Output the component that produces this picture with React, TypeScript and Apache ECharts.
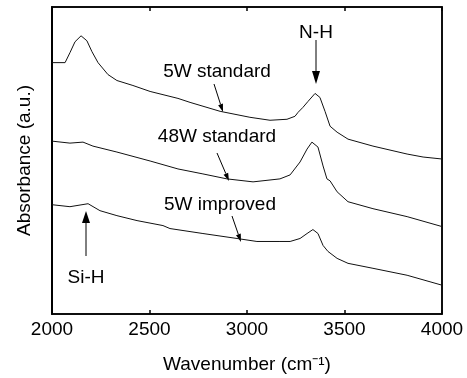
import React, { useEffect, useRef } from "react";
import * as echarts from "echarts";

// Wavenumber (cm-1) and absorbance (a.u., offset for stacking)
const wn5WStd = [2000, 2067, 2092, 2118, 2149, 2179, 2205, 2236, 2287, 2333, 2415, 2503, 2646, 2708, 2862, 3015, 3118, 3205, 3246, 3262, 3287, 3313, 3349, 3374, 3400, 3426, 3462, 3518, 3646, 3821, 3903, 4000];
const ab5WStd = [253, 253, 263, 274, 280, 275, 264, 253, 241, 235, 230, 224, 217, 213, 204, 198, 195, 196, 199, 203, 208, 214, 222, 218, 204, 189, 183, 176, 169, 161, 158, 156];

const wn48WStd = [2000, 2092, 2159, 2210, 2333, 2503, 2646, 2774, 2897, 3031, 3169, 3221, 3272, 3308, 3333, 3364, 3390, 3410, 3426, 3462, 3518, 3646, 3821, 4000];
const ab48WStd = [174, 172, 173, 169, 163, 154, 146, 141, 136, 133, 136, 140, 153, 166, 173, 168, 149, 136, 134, 123, 113, 106, 98, 88];

const wn5WImp = [2000, 2092, 2185, 2246, 2333, 2436, 2569, 2605, 2774, 2949, 3051, 3169, 3221, 3272, 3308, 3338, 3364, 3390, 3415, 3462, 3518, 3646, 3821, 4000];
const ab5WImp = [110, 108, 111, 104, 99, 94, 89, 86, 81, 76, 73, 73, 73, 76, 81, 85, 81, 69, 63, 56, 51, 46, 39, 29];

const xTicks = [2000, 2500, 3000, 3500, 4000];
const yRange = [0, 309];
const seriesNames = ["5W standard", "48W standard", "5W improved"];

const FONT = "'Liberation Sans', Arial, sans-serif";

function arrow(x1: number, y1: number, x2: number, y2: number, hl: number, hw: number) {
  const dx = x2 - x1;
  const dy = y2 - y1;
  const len = Math.sqrt(dx * dx + dy * dy);
  const ux = dx / len;
  const uy = dy / len;
  const bx = x2 - ux * hl;
  const by = y2 - uy * hl;
  const px = -uy * (hw / 2);
  const py = ux * (hw / 2);
  return [
    {
      type: "line",
      shape: { x1, y1, x2: bx, y2: by },
      style: { stroke: "#000", lineWidth: 1 },
    },
    {
      type: "polygon",
      shape: { points: [[x2, y2], [bx + px, by + py], [bx - px, by - py]] },
      style: { fill: "#000" },
    },
  ];
}

function label(text: string, x: number, y: number) {
  return {
    type: "text",
    x,
    y,
    style: {
      text,
      fill: "#000",
      font: `19px ${FONT}`,
      align: "center",
      verticalAlign: "middle",
    },
  };
}

export default function App() {
  const ref = useRef<HTMLDivElement>(null);
  useEffect(() => {
    if (!ref.current) return;
    const chart = echarts.init(ref.current, null, { renderer: "svg" });
    const mk = (w: number[], a: number[]) => w.map((v, i) => [v, a[i]]);
    chart.setOption({
      animation: false,
      grid: { left: 52, right: 25, top: 7, bottom: 62, show: true, borderColor: "#000", borderWidth: 1.5 },
      xAxis: [
        {
          type: "value",
          min: xTicks[0],
          max: xTicks[xTicks.length - 1],
          interval: 500,
          name: "Wavenumber (cm\u207B\u00B9)",
          nameLocation: "middle",
          nameGap: 40,
          nameTextStyle: { color: "#000", fontSize: 19, fontFamily: FONT },
          axisLine: { onZero: false, lineStyle: { color: "#000", width: 1.5 } },
          axisTick: { show: true, inside: true, length: 4, lineStyle: { color: "#000", width: 1.5 } },
          axisLabel: { color: "#000", fontSize: 19, fontFamily: FONT, margin: 5, formatter: (v: number) => String(v) },
          splitLine: { show: false },
        },
        {
          type: "value",
          position: "top",
          min: xTicks[0],
          max: xTicks[xTicks.length - 1],
          interval: 500,
          axisLine: { show: true, onZero: false, lineStyle: { color: "#000", width: 1.5 } },
          axisTick: { show: true, inside: true, length: 4, lineStyle: { color: "#000", width: 1.5 } },
          axisLabel: { show: false },
          splitLine: { show: false },
        },
      ],
      yAxis: [
        {
          type: "value",
          min: yRange[0],
          max: yRange[1],
          name: "Absorbance (a.u.)",
          nameLocation: "middle",
          nameGap: 19,
          nameTextStyle: { color: "#000", fontSize: 19, fontFamily: FONT },
          axisLine: { show: true, onZero: false, lineStyle: { color: "#000", width: 2 } },
          axisTick: { show: false },
          axisLabel: { show: false },
          splitLine: { show: false },
        },
        {
          type: "value",
          position: "right",
          min: yRange[0],
          max: yRange[1],
          axisLine: { show: true, onZero: false, lineStyle: { color: "#000", width: 1.5 } },
          axisTick: { show: false },
          axisLabel: { show: false },
          splitLine: { show: false },
        },
      ],
      series: [
        { name: seriesNames[0], type: "line", data: mk(wn5WStd, ab5WStd) },
        { name: seriesNames[1], type: "line", data: mk(wn48WStd, ab48WStd) },
        { name: seriesNames[2], type: "line", data: mk(wn5WImp, ab5WImp) },
      ].map((s) => ({ ...s, showSymbol: false, symbol: "none", lineStyle: { color: "#111", width: 1 } })),
      graphic: [
        label("N-H", 316, 31),
        ...arrow(316, 40, 316, 84, 13, 8),
        label(seriesNames[0], 217, 70),
        ...arrow(214, 84, 223, 112, 8, 5),
        label(seriesNames[1], 217, 135),
        ...arrow(217, 153, 229, 181, 8, 5),
        label(seriesNames[2], 220, 203),
        ...arrow(232, 216, 241, 242, 8, 5),
        label("Si-H", 86, 276),
        ...arrow(86, 256, 86, 211, 12, 8),
      ],
    });
    return () => chart.dispose();
  }, []);
  return <div ref={ref} style={{ position: "fixed", left: 0, top: 0, width: 467, height: 378 }} />;
}
